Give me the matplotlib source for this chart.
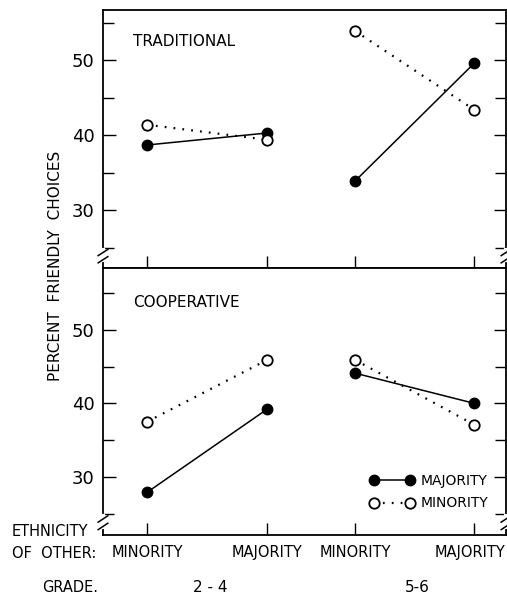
import matplotlib.pyplot as plt
import matplotlib.transforms as mtransforms
from matplotlib.lines import Line2D

# datos
ethnicity = ['MINORITY', 'MAJORITY', 'MINORITY', 'MAJORITY']
grades = ['2 - 4', '5-6']
trad_majority = [38.7, 40.3, 33.9, 49.6]
trad_minority = [41.4, 39.4, 53.9, 43.4]
coop_majority = [27.9, 39.2, 44.1, 40.0]
coop_minority = [37.5, 45.9, 45.9, 37.1]

# posiciones de las categorias (los grados estan agrupados)
xpos = [0, 1, 1.733, 2.725]

plt.rcParams['font.family'] = 'DejaVu Sans'
W, H = 507, 596
fig = plt.figure(figsize=(W / 100, H / 100), dpi=100)


def px_axes(left, top, right, bottom):
    return fig.add_axes([left / W, 1 - bottom / H, (right - left) / W, (bottom - top) / H])


ax_top = px_axes(103, 10, 506, 268)
ax_bot = px_axes(103, 268, 506, 535)


def draw_panel(ax, majority, minority, title, ylim, title_y):
    for g in range(2):
        idx = [2 * g, 2 * g + 1]
        xs = [xpos[i] for i in idx]
        ax.plot(xs, [majority[i] for i in idx], '-', color='black', lw=1.1,
                marker='o', ms=7.5, mfc='black', mec='black', zorder=3)
        ax.plot(xs, [minority[i] for i in idx], color='black', lw=1.6,
                linestyle=(0, (0.8, 3.2)), marker='o', ms=7.5, mfc='white',
                mec='black', mew=1.3, zorder=4)
    ax.set_xlim(-0.367, 2.99)
    ax.set_ylim(*ylim)
    ax.set_yticks([30, 40, 50])
    ax.set_yticks([25, 35, 45, 55], minor=True)
    ax.set_xticks(xpos)
    ax.tick_params(axis='y', which='both', direction='in', right=True,
                   labelsize=13, length=9, width=1, pad=6)
    ax.tick_params(axis='y', which='minor', length=8)
    ax.tick_params(axis='x', direction='in', length=9, width=1, top=False)
    for s in ax.spines.values():
        s.set_linewidth(1.3)
    ax.text(0.075, title_y, title, transform=ax.transAxes,
            fontsize=11, va='center', ha='left')


draw_panel(ax_top, trad_majority, trad_minority, 'TRADITIONAL', (22.3, 56.7), 0.876)
draw_panel(ax_bot, coop_majority, coop_minority, 'COOPERATIVE', (22.1, 58.4), 0.869)

ax_top.set_xticklabels([])
ax_bot.set_xticklabels(ethnicity, fontsize=10.5)
ax_bot.tick_params(axis='x', pad=7)
# la ultima etiqueta queda pegada al borde: la corremos un poco
last = ax_bot.get_xticklabels()[-1]
last.set_transform(last.get_transform() +
                   mtransforms.ScaledTranslation(-4 / 100, 0, fig.dpi_scale_trans))


# marcas de corte en el eje
def axis_break(ax, yfrac):
    for xf in (0, 1):
        kw = dict(transform=ax.transAxes, clip_on=False, color='black', lw=1.1)
        ax.plot([xf, xf], [yfrac - 0.03, yfrac + 0.01], color='white', lw=3,
                transform=ax.transAxes, clip_on=False, zorder=5)
        for dy in (-0.028, 0.0):
            ax.plot([xf - 0.012, xf + 0.012], [yfrac + dy - 0.012, yfrac + dy + 0.012],
                    zorder=6, **kw)


axis_break(ax_top, 0.06)
axis_break(ax_bot, 0.06)

leg_handles = [
    Line2D([], [], color='black', lw=1.1, marker='o', ms=7.5, mfc='black', mec='black'),
    Line2D([], [], color='black', lw=1.6, linestyle=(0, (0.8, 3.2)), marker='o',
           ms=7.5, mfc='white', mec='black', mew=1.3),
]
ax_bot.legend(leg_handles, ['MAJORITY', 'MINORITY'], loc='upper left',
              bbox_to_anchor=(0.662, 0.228), frameon=False, numpoints=2,
              handlelength=3.2, handletextpad=0.45, labelspacing=0.6,
              borderpad=0, borderaxespad=0, fontsize=10)

fig.text(56 / W, 1 - 266 / H, 'PERCENT  FRIENDLY  CHOICES', rotation=90,
         fontsize=11, ha='center', va='center')
fig.text(12 / W, 1 - 532 / H, 'ETHNICITY', fontsize=10.5, ha='left', va='center')
fig.text(12 / W, 1 - 554 / H, 'OF  OTHER:', fontsize=10.5, ha='left', va='center')
fig.text(42 / W, 1 - 587 / H, 'GRADE.', fontsize=10.5, ha='left', va='center')
fig.text(210 / W, 1 - 587 / H, grades[0], fontsize=11, ha='center', va='center')
fig.text(417 / W, 1 - 587 / H, grades[1], fontsize=11, ha='center', va='center')

fig.savefig('out.png', dpi=100)
